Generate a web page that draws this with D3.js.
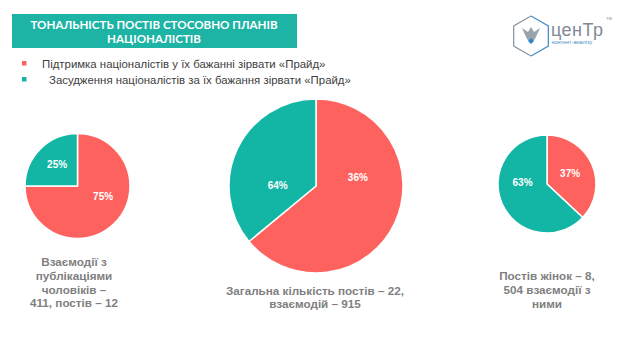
<!DOCTYPE html>
<html>
<head>
<meta charset="utf-8">
<script src="https://cdn.jsdelivr.net/npm/d3@7"></script>
<style>
  body { margin: 0; background: #fff; }
  svg { display: block; font-family: "Liberation Sans", Arial, sans-serif; }
</style>
</head>
<body>
<div id="graph"></div>
<script>
// data
var titleLines = ["ТОНАЛЬНІСТЬ ПОСТІВ СТОСОВНО ПЛАНІВ", "НАЦІОНАЛІСТІВ"]
var seriesNames = ["Підтримка націоналістів у їх бажанні зірвати «Прайд»",
                   "Засудження націоналістів за їх бажання зірвати «Прайд»"]
var pieNames = ["men", "total", "women"]
// slice sizes as drawn (support, condemnation)
var menValues = [75, 25]
var totalValues = [64, 36]
var womenValues = [37, 63]
// percentage labels as printed on the slide
var menLabels = ["75%", "25%"]
var totalLabels = ["36%", "64%"]
var womenLabels = ["37%", "63%"]
var menCaption = ["Взаємодії з", "публікаціями", "чоловіків –", "411, постів – 12"]
var totalCaption = ["Загальна кількість постів – 22,", "взаємодій – 915"]
var womenCaption = ["Постів жінок – 8,", "504 взаємодії з", "ними"]

var w = 625, h = 337
var red = "#fd625e", teal = "#13b5a5"

var colour = d3.scaleOrdinal()
  .domain(seriesNames)
  .range([red, teal])

var svg = d3.select('#graph')
  .append('svg')
  .attr("width", w)
  .attr("height", h)

// title box
svg.append("rect")
  .attr("x", 12).attr("y", 14)
  .attr("width", 285).attr("height", 34)
  .attr("fill", "#1db4a5")

svg.append("g").selectAll("text")
  .data(titleLines)
  .enter().append("text")
  .attr("x", 154)
  .attr("y", (d, i) => 29 + i * 14)
  .attr("text-anchor", "middle")
  .attr("fill", "#fff")
  .style("font-family", "Lato, 'DejaVu Sans', sans-serif")
  .style("font-weight", "bold")
  .style("font-size", "11.6px")
  .text(d => d)

// legend
var legend = svg.append("g").selectAll("g")
  .data(seriesNames)
  .enter().append("g")
  .attr("transform", (d, i) => "translate(0," + (63 + i * 16) + ")")

legend.append("rect")
  .attr("x", 22).attr("y", -2)
  .attr("width", 4.5).attr("height", 4.5)
  .attr("fill", d => colour(d))

legend.append("text")
  .attr("x", (d, i) => i == 0 ? 42 : 49)
  .attr("y", 4.5)
  .attr("fill", "#404040")
  .style("font-size", "11.4px")
  .text(d => d)

// logo
var logo = svg.append("g").attr("transform", "translate(531,36)")
var hex = d3.range(7).map(i => {
  var a = Math.PI / 3 * i - Math.PI / 2
  return [20 * Math.cos(a), 20 * Math.sin(a)]
})
logo.append("path")
  .attr("d", d3.line()(hex.slice(0, 4)))
  .attr("fill", "none").attr("stroke", "#4a90c8").attr("stroke-width", 1.3)
logo.append("path")
  .attr("d", d3.line()(hex.slice(3)))
  .attr("fill", "none").attr("stroke", "#8e9aa6").attr("stroke-width", 1.3)
logo.append("path")
  .attr("d", "M-9,-8 L-3,-4 L0,-9 L3,-4 L9,-8 L4,3 L0,7 L-4,3 Z")
  .attr("fill", "#9aa3ab")
logo.append("path")
  .attr("d", "M0,2 L3,5 L0,8 L-3,5 Z")
  .attr("fill", "#2f86c6")
svg.append("text")
  .attr("x", 551).attr("y", 36)
  .attr("fill", "#7f8a96")
  .style("font-size", "18px")
  .style("font-weight", "300")
  .style("letter-spacing", "0.5px")
  .text("ценТр")
svg.append("text")
  .attr("x", 552).attr("y", 44)
  .attr("fill", "#4a90c8")
  .style("font-size", "5.5px")
  .text("контент-аналізу")
svg.append("text")
  .attr("x", 606).attr("y", 20)
  .attr("fill", "#7f8a96")
  .style("font-size", "4px")
  .text("TM")

// pies; label placement follows the slide (angle in degrees from 12 o'clock, radius share)
var pies = [
  {name: pieNames[0], cx: 77.5, cy: 186, r: 52.5, values: menValues, labels: menLabels,
   labelAt: [[113, 0.53], [317, 0.57]], caption: menCaption, capX: 74, capY: 266},
  {name: pieNames[1], cx: 316, cy: 186, r: 87, values: totalValues, labels: totalLabels,
   labelAt: [[79, 0.49], [271, 0.44]], caption: totalCaption, capX: 315, capY: 294.5},
  {name: pieNames[2], cx: 547, cy: 184, r: 49, values: womenValues, labels: womenLabels,
   labelAt: [[65, 0.52], [274, 0.5]], caption: womenCaption, capX: 547, capY: 280}
]

var pie = d3.pie().sort(null).value(d => d)

pies.forEach(p => {
  var g = svg.append("g")
    .attr("class", "pie-" + p.name)
    .attr("transform", "translate(" + p.cx + "," + p.cy + ")")

  var arc = d3.arc().innerRadius(0).outerRadius(p.r)
  var slices = pie(p.values)

  g.selectAll("path")
    .data(slices)
    .enter().append("path")
    .attr("d", arc)
    .attr("fill", (d, i) => colour(seriesNames[i]))
    .attr("stroke", "#fff")
    .attr("stroke-width", 1.5)

  g.selectAll("text")
    .data(slices)
    .enter().append("text")
    .attr("transform", (d, i) => {
      var a = p.labelAt[i][0] * Math.PI / 180, rr = p.labelAt[i][1] * p.r
      return "translate(" + (rr * Math.sin(a)) + "," + (-rr * Math.cos(a)) + ")"
    })
    .attr("text-anchor", "middle")
    .attr("dy", "0.35em")
    .attr("fill", "#fff")
    .style("font-weight", "bold")
    .style("font-size", "10px")
    .text((d, i) => p.labels[i])

  svg.append("g").selectAll("text")
    .data(p.caption)
    .enter().append("text")
    .attr("x", p.capX)
    .attr("y", (d, i) => p.capY + i * 13.8)
    .attr("text-anchor", "middle")
    .attr("fill", "#7f7f7f")
    .style("font-weight", "bold")
    .style("font-size", "11.7px")
    .text(d => d)
})
</script>
</body>
</html>
